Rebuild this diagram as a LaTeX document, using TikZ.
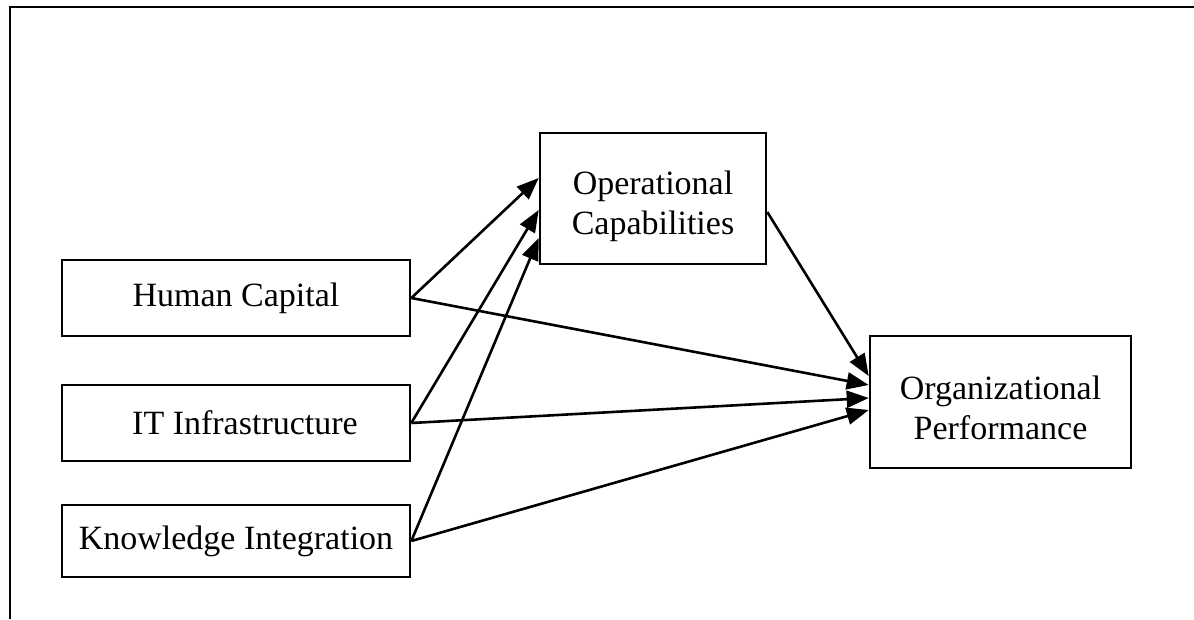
\documentclass[tikz,border=0pt]{standalone}
\usepackage{fontspec}
\setmainfont{Liberation Serif}
\usetikzlibrary{arrows.meta}
\begin{document}
\begin{tikzpicture}[x=1pt,y=-1pt,
  box/.style={draw,line width=2.6pt,inner sep=0pt,align=center,
    font=\fontsize{34}{40}\selectfont},
  lbl/.style={inner sep=0pt,align=center,font=\fontsize{34}{40}\selectfont},
  arr/.style={line width=2.6pt,-{Triangle[length=22pt,width=17pt]}},
  frame/.style={line width=2.8pt}]
\useasboundingbox (0,0) rectangle (1194,619);
% frame
\coordinate (f0) at (10,7);
\coordinate (f1) at (1194,7);
\coordinate (f2) at (10,619);
\draw[frame] (f2) -- (f0) -- (f1);
% boxes
\node[box,minimum width=348pt,minimum height=76pt] (hc) at (236,298) {Human Capital};
\node[box,minimum width=348pt,minimum height=76pt] (it) at (236,423) {\hspace*{18pt}IT Infrastructure};
\node[box,minimum width=348pt,minimum height=72pt] (ki) at (236,541) {Knowledge Integration};
\node[box,minimum width=226pt,minimum height=131pt] (oc) at (653,198.5) {};
\node[lbl] (oct) at ([yshift=-8pt]oc.center) {Operational\\Capabilities};
\node[box,minimum width=261pt,minimum height=132pt] (op) at (1000.5,402) {};
\node[lbl] (opt) at ([yshift=-6pt]op.center) {Organizational\\Performance};
% connectors
\draw[arr] (hc.east) -- (oc.west |- 0,178);
\draw[arr] (it.east) -- (oc.west |- 0,210);
\draw[arr] (ki.east) -- (oc.west |- 0,238);
\draw[arr] (hc.east) -- (op.west |- 0,385);
\draw[arr] (it.east) -- (op.west |- 0,398);
\draw[arr] (ki.east) -- (op.west |- 0,410);
\draw[arr] (oc.east |- 0,212) -- (op.west |- 0,376);
\end{tikzpicture}
\end{document}
